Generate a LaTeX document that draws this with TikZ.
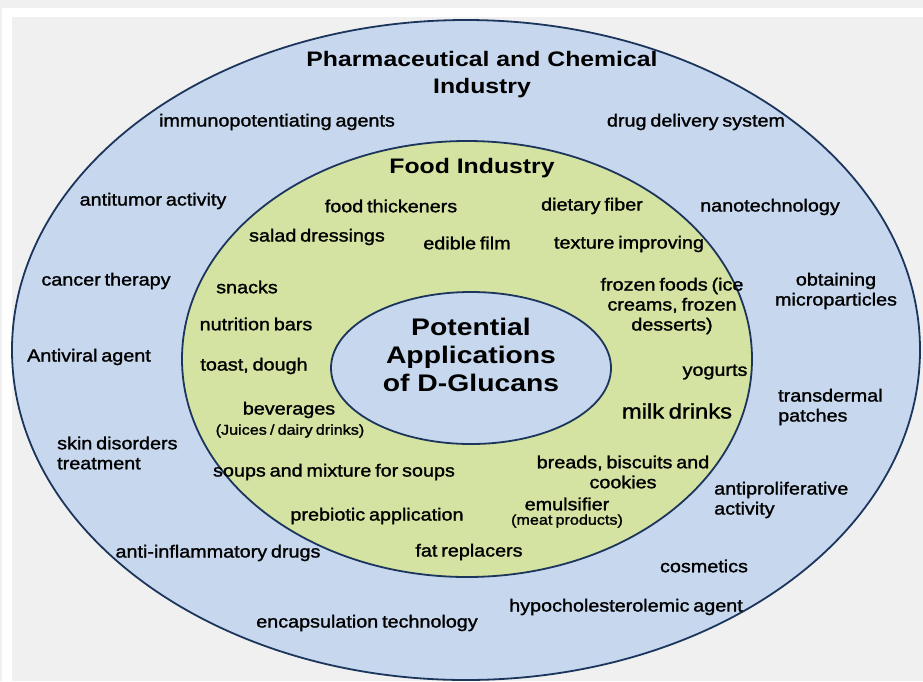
\documentclass[tikz,border=0pt]{standalone}
\usepackage{fontspec}
\setmainfont{Liberation Sans}
\newfontfamily\itemfont{Liberation Sans}[FakeStretch=1.13,FakeBold=1.4,WordSpace=0.7]
\newfontfamily\headfont{Liberation Sans Bold}[FakeStretch=1.18]
\usetikzlibrary{shapes.geometric}

\definecolor{pagegray}{HTML}{F0F0F0}
\definecolor{outerblue}{HTML}{C7D8EE}
\definecolor{foodgreen}{HTML}{D4E2A2}
\definecolor{rimnavy}{HTML}{1C355C}

\tikzset{
  ring/.style={ellipse, draw=rimnavy, line width=1.8pt, inner sep=0pt},
  item/.style={align=center, inner sep=0pt, text=black,
               font=\itemfont\fontsize{17.5}{20}\selectfont},
  itemleft/.style={item, align=left, anchor=west},
  note/.style={item, font=\itemfont\fontsize{14.3}{16}\selectfont},
  bigitem/.style={item, font=\itemfont\fontsize{21}{24}\selectfont},
  heading/.style={align=center, inner sep=0pt, text=black,
                  font=\headfont\fontsize{21}{27}\selectfont},
  core/.style={align=center, inner sep=0pt, text=black,
               font=\headfont\fontsize{24}{28}\selectfont}
}

\begin{document}
\begin{tikzpicture}[x=1pt, y=-1pt]
  % page and panel
  \fill[pagegray] (0,0) rectangle (923,681);
  \fill[white] (2,8) rectangle (923,681);
  \fill[pagegray] (12,17) rectangle (923,681);
  \useasboundingbox (0,0) rectangle (923,681);

  % the three nested rings
  \node[ring, fill=outerblue, minimum width=908pt, minimum height=660pt] (pharma) at (466,350) {};
  \node[ring, fill=foodgreen, minimum width=570pt, minimum height=436pt] (food) at (467,359) {};
  \node[ring, fill=outerblue, minimum width=280pt, minimum height=152pt] (centre) at (471,368) {};

  % centre label
  \node[core] (title) at (471,355) {Potential\\Applications\\of D-Glucans};

  % pharmaceutical and chemical industry
  \node[heading] (pharmahead) at (482,75) {Pharmaceutical and Chemical\\Industry};
  \node[item] (immuno) at (277,122) {immunopotentiating agents};
  \node[item] (drugdel) at (696,122) {drug delivery system};
  \node[item] (antitumor) at (153,201) {antitumor activity};
  \node[item] (nano) at (770,207) {nanotechnology};
  \node[item] (cancer) at (106,281) {cancer therapy};
  \node[item] (micro) at (836,291) {obtaining\\microparticles};
  \node[item] (antiviral) at (89,357) {Antiviral agent};
  \node[itemleft] (transdermal) at (778,407) {transdermal\\patches};
  \node[itemleft] (skin) at (57,453) {skin disorders\\treatment};
  \node[itemleft] (antiprolif) at (714,500) {antiproliferative\\activity};
  \node[item] (antiinfl) at (218,553) {anti-inflammatory drugs};
  \node[item] (cosmetics) at (704,566) {cosmetics};
  \node[item] (hypochol) at (626,607) {hypocholesterolemic agent};
  \node[item] (encaps) at (367,623) {encapsulation technology};

  % food industry
  \node[heading] (foodhead) at (472,168) {Food Industry};
  \node[item] (thick) at (391,206) {food thickeners};
  \node[item] (fiber) at (592,206) {dietary fiber};
  \node[item] (salad) at (317,237) {salad dressings};
  \node[item] (film) at (467,243) {edible film};
  \node[item] (texture) at (629,244) {texture improving};
  \node[item] (snacks) at (247,287) {snacks};
  \node[item] (frozen) at (672,306) {frozen foods (ice\\creams, frozen\\desserts)};
  \node[item] (bars) at (256,324) {nutrition bars};
  \node[item] (toast) at (254,366) {toast, dough};
  \node[item] (yogurts) at (715,372) {yogurts};
  \node[item] (bev) at (289,410) {beverages};
  \node[note] (bevnote) at (290,431) {(Juices / dairy drinks)};
  \node[bigitem] (milk) at (677,411) {milk drinks};
  \node[item] (breads) at (623,472) {breads, biscuits and\\cookies};
  \node[item] (soups) at (334,472) {soups and mixture for soups};
  \node[item] (emuls) at (567,504) {emulsifier};
  \node[note] (emulsnote) at (567,521) {(meat products)};
  \node[item] (prebio) at (377,516) {prebiotic application};
  \node[item] (fat) at (469,552) {fat replacers};
\end{tikzpicture}
\end{document}
